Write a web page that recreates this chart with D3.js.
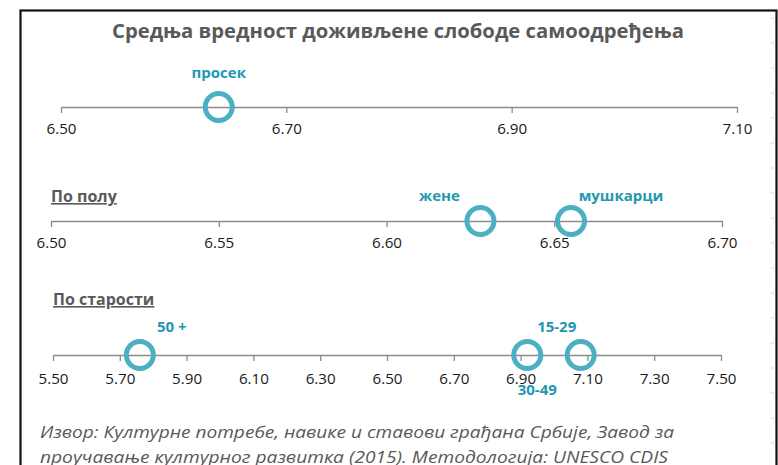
<!DOCTYPE html>
<html>
<head>
<meta charset="utf-8">
<script src="https://cdn.jsdelivr.net/npm/d3@7"></script>
<style>
  body { margin: 0; background: #fff; }
  text { font-family: "Open Sans", "Noto Sans", sans-serif; }
</style>
</head>
<body>
<div id="chart"></div>
<script>
const svgWidth = 778;
const svgHeight = 465;

// data
const titleText = "Средња вредност доживљене слободе самоодређења";
const sourceLines = [
  "Извор: Културне потребе, навике и ставови грађана Србије, Завод за",
  "проучавање културног развитка (2015). Методологија: UNESCO CDIS"
];

const avgNames = ["просек"];
const avgValues = [6.64];
const avgTicks = [6.50, 6.70, 6.90, 7.10];

const genderNames = ["жене", "мушкарци"];
const genderValues = [6.628, 6.655];
const genderTicks = [6.50, 6.55, 6.60, 6.65, 6.70];

const ageNames = ["50 +", "30-49", "15-29"];
const ageValues = [5.76, 6.92, 7.08];
const ageTicks = [5.50, 5.70, 5.90, 6.10, 6.30, 6.50, 6.70, 6.90, 7.10, 7.30, 7.50];

const ringColor = "#4bb0c3";
const labelColor = "#2397b0";

const svg = d3.select("#chart")
  .append("svg")
  .attr("width", svgWidth)
  .attr("height", svgHeight);

// frame
svg.append("rect")
  .attr("x", 20.5).attr("y", 10.5)
  .attr("width", 756).attr("height", 470)
  .attr("fill", "#fff")
  .attr("stroke", "#111")
  .attr("stroke-width", 2.2);

// faint ticks along the right edge
svg.append("g").selectAll("line")
  .data(d3.range(18, 465, 25))
  .join("line")
  .attr("x1", 770).attr("x2", 774)
  .attr("y1", d => d).attr("y2", d => d)
  .attr("stroke", "#ddd");

svg.append("text")
  .attr("x", 398).attr("y", 38)
  .attr("text-anchor", "middle")
  .attr("font-size", 20)
  .attr("font-weight", 700)
  .attr("fill", "#595959")
  .attr("textLength", 572)
  .attr("lengthAdjust", "spacingAndGlyphs")
  .text(titleText);

// one row = axis + rings + labels
function drawRow(opts) {
  const x = d3.scaleLinear()
    .domain(opts.domain)
    .range(opts.range);

  const axis = d3.axisBottom(x)
    .tickValues(opts.ticks)
    .tickSize(6)
    .tickSizeOuter(0)
    .tickPadding(opts.pad)
    .tickFormat(d3.format(".2f"));

  const g = svg.append("g")
    .attr("transform", `translate(0, ${opts.y})`)
    .call(axis);
  g.select(".domain").attr("stroke", "#8c8c8c").attr("stroke-width", 1.3);
  g.selectAll(".tick line").attr("stroke", "#8c8c8c").attr("stroke-width", 1.3);
  g.selectAll(".tick text")
    .attr("font-size", 15)
    .attr("fill", "#1a1a1a")
    .attr("font-family", "'Open Sans', sans-serif")
    .attr("textLength", 30)
    .attr("lengthAdjust", "spacingAndGlyphs");

  svg.append("g").selectAll("circle")
    .data(opts.values)
    .join("circle")
    .attr("cx", d => x(d))
    .attr("cy", opts.y)
    .attr("r", 13.5)
    .attr("fill", "none")
    .attr("stroke", ringColor)
    .attr("stroke-width", 5);

  svg.append("g").selectAll("text")
    .data(opts.names)
    .join("text")
    .attr("x", (d, i) => x(opts.values[i]) + opts.labelDx[i])
    .attr("y", (d, i) => opts.y + opts.labelDy[i])
    .attr("text-anchor", "middle")
    .attr("font-size", 15)
    .attr("font-weight", 700)
    .attr("fill", labelColor)
    .text(d => d);

  if (opts.heading) {
    svg.append("text")
      .attr("x", opts.range[0])
      .attr("y", opts.y + opts.headDy)
      .attr("font-size", 16)
      .attr("font-weight", 700)
      .attr("fill", "#595959")
      .attr("text-decoration", "underline")
      .text(opts.heading);
  }
}

drawRow({
  y: 107, domain: [6.5, 7.1], range: [61, 737], ticks: avgTicks, pad: 10,
  values: avgValues, names: avgNames,
  labelDx: [0], labelDy: [-29]
});

drawRow({
  y: 221, domain: [6.5, 6.7], range: [51, 722], ticks: genderTicks, pad: 10,
  values: genderValues, names: genderNames,
  labelDx: [-41, 50], labelDy: [-20, -20],
  heading: "По полу", headDy: -19
});

drawRow({
  y: 355, domain: [5.5, 7.5], range: [53, 721], ticks: ageTicks, pad: 12,
  values: ageValues, names: ageNames,
  labelDx: [32, 10, -24], labelDy: [-23, 40, -23],
  heading: "По старости", headDy: -50
});

// source note
svg.append("g").selectAll("text")
  .data(sourceLines)
  .join("text")
  .attr("x", 40)
  .attr("y", (d, i) => 438 + i * 25)
  .attr("font-size", 17)
  .attr("font-style", "italic")
  .attr("fill", "#595959")
  .attr("textLength", (d, i) => i === 0 ? 634 : 628)
  .attr("lengthAdjust", "spacingAndGlyphs")
  .text(d => d);
</script>
</body>
</html>
